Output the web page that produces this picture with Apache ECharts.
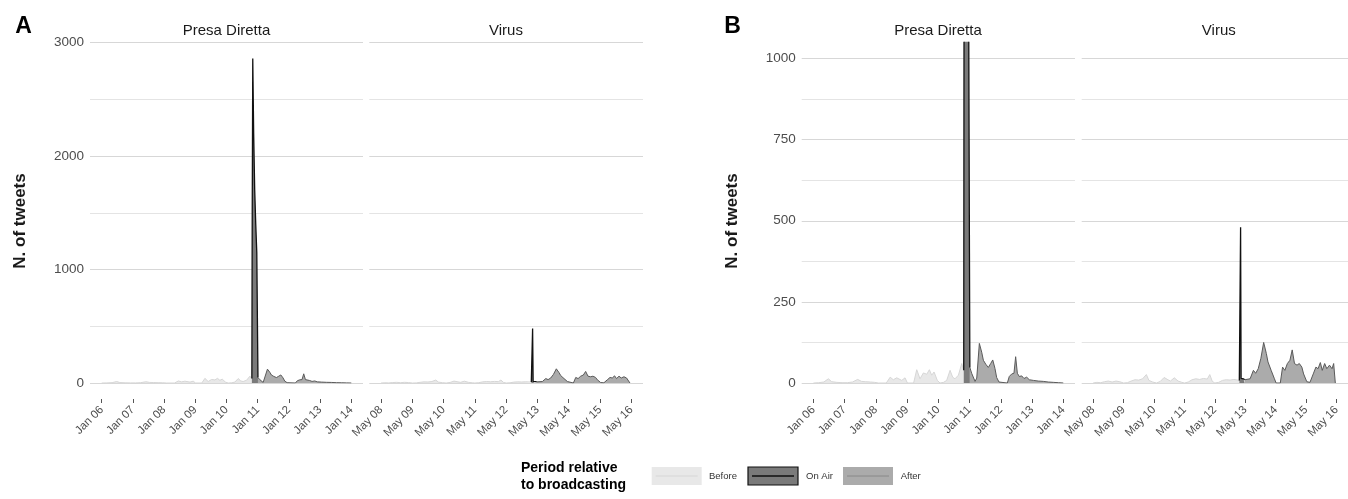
<!DOCTYPE html>
<html><head><meta charset="utf-8">
<script src="https://cdn.jsdelivr.net/npm/echarts@6/dist/echarts.min.js"></script>
<style>html,body{margin:0;padding:0;background:#fff}#c{width:1348px;height:499px}</style>
</head><body><div id="c"></div>
<script>
// ---------- DATA ----------
const FACETS = ['Presa Diretta', 'Virus'];
// x positions are hours elapsed since the first tick day (Jan 06 00:00 / May 08 00:00)
const dayTickHours = [0, 24, 48, 72, 96, 120, 144, 168, 192];
const pdTickLabels = ['Jan 06','Jan 07','Jan 08','Jan 09','Jan 10','Jan 11','Jan 12','Jan 13','Jan 14'];
const vTickLabels = ['May 08','May 09','May 10','May 11','May 12','May 13','May 14','May 15','May 16'];
const aYTicks = [0, 1000, 2000, 3000];
const bYTicks = [0, 250, 500, 750, 1000];
const legendLabels = ['Before', 'On Air', 'After'];

const pdBeforeH = [0,4,8,11.5,14,18,22,26,30,34,37,40,44,47,50,56,59,61.4,64,67.9,70.4,72.2,77,79.4,81.9,84.5,87.1,89.1,90.9,92.7,95.2,97.3,100,102.4,105,107,108.8,111.4,114,115.5];
const pdBeforeV = [0,1,3,13,4,2,1,1,3,11,5,4,3,2,0,0,18,10,16,8,16,0,0,41,13,31,27,41,24,34,8,0,2,8,39,18,13,24,60,39];
const pdOnAirH = [115.5,115.8,116.2,116.9,117.7,118.5,119.3,119.9,120.2];
const pdOnAirV = [39,1500,2860,2200,1700,1400,1150,400,48];
const pdAfterH = [120.2,121.6,124.2,125.5,127.5,129.3,130.6,132.4,134.4,136.2,137.8,139.5,140.8,142.6,143.9,149,150.5,152.4,154.1,155.4,156.7,158.2,160,161.8,163.9,165.9,169,172.8,176.6,180.5,184.3,188.2,192];
const pdAfterV = [48,30,5,15,122,95,70,58,48,60,71,45,17,3,0,0,20,28,30,81,30,20,22,14,18,10,8,6,5,3,2,1,0];

const vBeforeH = [0,3,6,9,12,15,18,21,24,27,30,33,36,39,42,44,47,50,53,56,59,61,64,67,70,72,75,78,81,84,87,90,92,94,96,99,102,105,108,111,115.3];
const vBeforeV = [0,2,1,4,6,3,6,4,0,1,6,10,9,13,26,8,3,0,5,17,10,6,16,6,2,0,3,10,13,11,14,12,26,5,0,2,8,10,9,11,8];
const vOnAirH = [115.3,115.9,116.3,116.7,117.5,118.5,119.5];
const vOnAirV = [8,12,480,14,12,13,10];
const vAfterH = [119.5,121,123.8,126.4,128.2,130.2,132.3,134.5,136.6,137.9,140.4,143,144.3,147.6,149.4,151.2,153.2,155.2,157,158.8,160.8,162.6,164.6,166,168.5,171,173.6,175.7,177.4,179.2,180.7,182.6,184.3,186.4,188.4,189.7,191];
const vAfterV = [10,7,13,39,30,44,76,125,91,65,39,13,0,0,49,39,60,70,102,60,55,60,49,28,4,2,28,49,44,63,39,60,44,55,44,60,0];

// ---------- STYLE ----------
const FONT = '"Liberation Sans", Arial, sans-serif';
const COL = {
  before: {fill: '#e8e8e8', line: '#d6d6d6', w: 1},
  onair:  {fill: '#7a7a7a', line: '#111111', w: 1.3},
  after:  {fill: '#ababab', line: '#5a5a5a', w: 1}
};

const grids = [
  {left: 90,     top: 42.7, width: 273,   height: 340.3},
  {left: 369.3,  top: 42.7, width: 273.7, height: 340.3},
  {left: 801.7,  top: 42.3, width: 273.3, height: 340.7},
  {left: 1081.7, top: 42.3, width: 274,   height: 340.7}
];

function xAxisFor(gi, labels) {
  return {
    type: 'value', gridIndex: gi, min: -9, max: 201, offset: 16,
    axisLine: {show: false, onZero: false}, splitLine: {show: false},
    axisTick: {show: true, length: 4, lineStyle: {color: '#555', width: 1}, customValues: dayTickHours},
    axisLabel: {
      rotate: 45, fontSize: 11.5, color: '#4d4d4d', margin: 9, fontFamily: FONT, hideOverlap: false,
      customValues: dayTickHours,
      formatter: v => { const i = dayTickHours.indexOf(Math.round(+v)); return i >= 0 ? labels[i] : ''; }
    }
  };
}
function yAxisFor(gi, max, interval, labelTicks, showLabels) {
  return {
    type: 'value', gridIndex: gi, min: 0, max: max, interval: interval,
    axisLine: {show: false, onZero: false}, axisTick: {show: false},
    axisLabel: {show: showLabels, fontSize: 13.5, color: '#4d4d4d', margin: 6, fontFamily: FONT,
      showMaxLabel: max === 3000,
      formatter: v => labelTicks.indexOf(+v) >= 0 ? String(v) : ''},
    splitLine: {show: true, showMaxLine: max === 3000, lineStyle: {color: ['#d7d7d7', '#e4e4e4'], width: 1.1}}
  };
}
function series(gi, h, v, st, z) {
  return {
    type: 'line', xAxisIndex: gi, yAxisIndex: gi, z: z,
    data: h.map((x, i) => [x, v[i]]),
    showSymbol: false, symbol: 'none', silent: true, animation: false,
    lineStyle: {color: st.line, width: st.w},
    areaStyle: {color: st.fill, opacity: 1},
    itemStyle: {color: st.fill}
  };
}

const facetData = [
  {labels: pdTickLabels, b: [pdBeforeH, pdBeforeV], o: [pdOnAirH, pdOnAirV], a: [pdAfterH, pdAfterV]},
  {labels: vTickLabels,  b: [vBeforeH, vBeforeV],   o: [vOnAirH, vOnAirV],   a: [vAfterH, vAfterV]}
];

const xAxes = [], yAxes = [], allSeries = [];
for (let gi = 0; gi < 4; gi++) {
  const f = facetData[gi % 2];
  const isA = gi < 2;
  xAxes.push(xAxisFor(gi, f.labels));
  yAxes.push(isA ? yAxisFor(gi, 3000, 500, aYTicks, gi % 2 === 0) : yAxisFor(gi, 1050, 125, bYTicks, gi % 2 === 0));
  allSeries.push(series(gi, f.b[0], f.b[1], COL.before, 2));
  allSeries.push(series(gi, f.a[0], f.a[1], COL.after, 3));
  allSeries.push(series(gi, f.o[0], f.o[1], COL.onair, 4));
}

// ---------- TEXT / LEGEND ----------
const g = [];
const txt = (x, y, text, font, fill, align, rot) => g.push({type: 'text', x: x, y: y, rotation: rot || 0, silent: true,
  style: {text: text, font: font, fill: fill, align: align || 'center', verticalAlign: 'middle'}});
txt(23.5, 27, 'A', 'bold 23px ' + FONT, '#000');
txt(732.5, 27, 'B', 'bold 23px ' + FONT, '#000');
[226.5, 506, 938, 1218.8].forEach((x, i) => txt(x, 30.5, FACETS[i % 2], '15px ' + FONT, '#1a1a1a'));
txt(20.5, 221, 'N. of tweets', 'bold 17px ' + FONT, '#1a1a1a', 'center', Math.PI / 2);
txt(732, 221, 'N. of tweets', 'bold 17px ' + FONT, '#1a1a1a', 'center', Math.PI / 2);
txt(521, 468, 'Period relative', 'bold 14px ' + FONT, '#000', 'left');
txt(521, 485, 'to broadcasting', 'bold 14px ' + FONT, '#000', 'left');
const keys = [
  {x: 651.7, st: COL.before, border: null, tx: 709},
  {x: 748,   st: COL.onair,  border: '#111', tx: 806},
  {x: 843,   st: COL.after,  border: null, tx: 900.7}
];
keys.forEach((k, i) => {
  g.push({type: 'rect', silent: true, shape: {x: k.x, y: 467, width: 50, height: 18},
    style: {fill: k.st.fill, stroke: k.border || k.st.fill, lineWidth: k.border ? 1.2 : 0}});
  g.push({type: 'line', silent: true, shape: {x1: k.x + 4, y1: 476, x2: k.x + 46, y2: 476},
    style: {stroke: i === 2 ? '#888' : k.st.line, lineWidth: i === 1 ? 1.5 : 1}});
  txt(k.tx, 476.5, legendLabels[i], '9.5px ' + FONT, '#333', 'left');
});

const chart = echarts.init(document.getElementById('c'), null, {renderer: 'canvas'});
chart.setOption({
  animation: false,
  backgroundColor: '#fff',
  grid: grids,
  xAxis: xAxes,
  yAxis: yAxes,
  series: allSeries,
  graphic: g
});
</script></body></html>
